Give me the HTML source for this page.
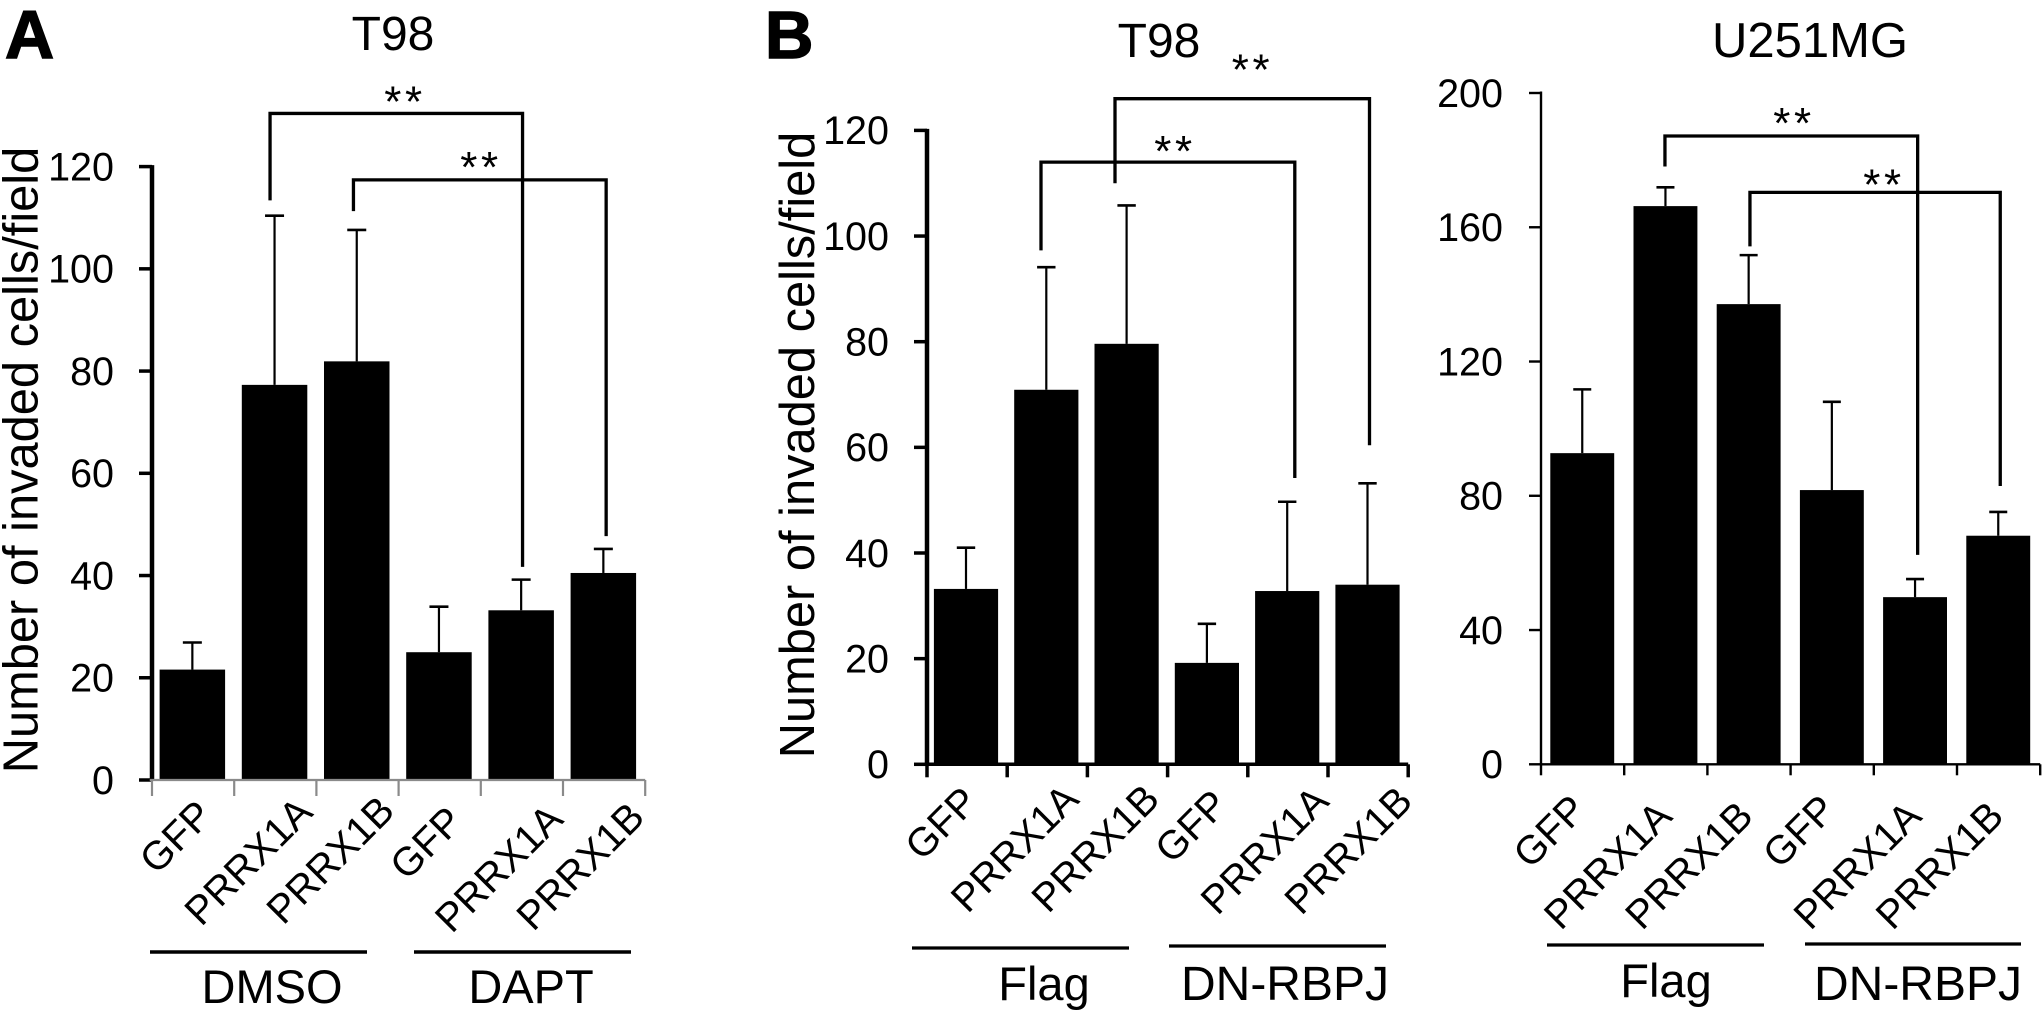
<!DOCTYPE html>
<html lang="en">
<head>
<meta charset="utf-8">
<title>Number of invaded cells per field</title>
<style>
html,body{margin:0;padding:0;background:#fff;}
svg{display:block;}
text{font-family:"Liberation Sans",Arial,sans-serif;fill:#000;}
</style>
</head>
<body>
<svg id="figure" xmlns="http://www.w3.org/2000/svg" width="2042" height="1012" viewBox="0 0 2042 1012">
  <rect x="0" y="0" width="2042" height="1012" fill="#fff"/>

  <text x="5" y="58" font-size="68" font-weight="700" stroke="#000" stroke-width="1.5">A</text>
  <text x="765" y="58" font-size="67" font-weight="700" stroke="#000" stroke-width="1.5">B</text>

  <text x="393" y="50" font-size="48" text-anchor="middle">T98</text>
  <text x="1159" y="57" font-size="48" text-anchor="middle">T98</text>
  <text x="1810" y="57" font-size="49" text-anchor="middle">U251MG</text>

  <text transform="translate(37.5,460) rotate(-90)" font-size="48.8" text-anchor="middle">Number of invaded cells/field</text>
  <text transform="translate(814,445) rotate(-90)" font-size="48.8" text-anchor="middle">Number of invaded cells/field</text>

  <line x1="150" x2="367" y1="952" y2="952" stroke="#000" stroke-width="3.5"/>
  <line x1="414" x2="631" y1="952" y2="952" stroke="#000" stroke-width="3.5"/>
  <text x="272" y="1003" font-size="47" text-anchor="middle">DMSO</text>
  <text x="531" y="1003" font-size="47" text-anchor="middle">DAPT</text>

  <line x1="912" x2="1129" y1="948" y2="948" stroke="#000" stroke-width="3.2"/>
  <line x1="1169" x2="1386" y1="946" y2="946" stroke="#000" stroke-width="3.2"/>
  <text x="1044" y="1000" font-size="47" text-anchor="middle">Flag</text>
  <text x="1285" y="1000" font-size="48" text-anchor="middle">DN-RBPJ</text>

  <line x1="1547" x2="1764" y1="945" y2="945" stroke="#000" stroke-width="3.2"/>
  <line x1="1805" x2="2021" y1="944" y2="944" stroke="#000" stroke-width="3.2"/>
  <text x="1666" y="997" font-size="47" text-anchor="middle">Flag</text>
  <text x="1918" y="1000" font-size="48" text-anchor="middle">DN-RBPJ</text>
</svg>

<script>
// ---- Chart data ----
const categories = ["GFP", "PRRX1A", "PRRX1B", "GFP", "PRRX1A", "PRRX1B"];

const panelAValues = [21.6, 77.3, 81.9, 25, 33.2, 40.5];
const panelAErrorTops = [26.9, 110.4, 107.6, 33.9, 39.2, 45.2];
const panelATicks = [0, 20, 40, 60, 80, 100, 120];
const panelABracketFrom = [1, 2];
const panelABracketTo = [4, 5];
const panelABracketTop = [130.4, 117.4];
const panelABracketLeftEnd = [113.4, 111.3];
const panelABracketRightEnd = [41.7, 47.7];
const panelABracketLabels = ["**", "**"];

const panelBValues = [33.2, 70.9, 79.6, 19.2, 32.8, 34];
const panelBErrorTops = [41, 94.1, 105.8, 26.6, 49.7, 53.2];
const panelBTicks = [0, 20, 40, 60, 80, 100, 120];
const panelBBracketFrom = [2, 1];
const panelBBracketTo = [5, 4];
const panelBBracketTop = [126, 114];
const panelBBracketLeftEnd = [110, 97.3];
const panelBBracketRightEnd = [60.4, 54.2];
const panelBBracketLabels = ["**", "**"];

const panelCValues = [92.7, 166.3, 137.1, 81.7, 49.8, 68.1];
const panelCErrorTops = [111.7, 171.9, 151.7, 108, 55.2, 75.2];
const panelCTicks = [0, 40, 80, 120, 160, 200];
const panelCBracketFrom = [1, 2];
const panelCBracketTo = [4, 5];
const panelCBracketTop = [187.2, 170.4];
const panelCBracketLeftEnd = [178.1, 154.3];
const panelCBracketRightEnd = [62.4, 82.9];
const panelCBracketLabels = ["**", "**"];

// ---- Drawing ----
const SVG_NS = "http://www.w3.org/2000/svg";
const figure = document.getElementById("figure");

function make(tag, attrs, parent) {
  const el = document.createElementNS(SVG_NS, tag);
  for (const key in attrs) el.setAttribute(key, attrs[key]);
  parent.appendChild(el);
  return el;
}

function drawPanel(p) {
  const yScale = v => p.y0 - (v - p.min) * (p.y0 - p.yTop) / (p.max - p.min);
  const barLeft = i => p.barStart + i * p.barStep;
  const barCenter = i => barLeft(i) + p.barWidth / 2;
  const tickX = i => p.axisX + i * p.tickStep;

  const group = make("g", {}, figure);
  
  

  // Error bars
  p.errorTops.forEach((top, i) => {
    const stem = make("line", {
      x1: barCenter(i), x2: barCenter(i), y1: yScale(p.values[i]), y2: yScale(top),
      stroke: "#000", "stroke-width": 2.2
    }, group);
    
    
    const cap = make("line", {
      x1: barCenter(i) - p.capWidth / 2, x2: barCenter(i) + p.capWidth / 2,
      y1: yScale(top), y2: yScale(top),
      stroke: "#000", "stroke-width": 2.6
    }, group);
    
    
  });

  // Bars
  p.values.forEach((v, i) => {
    const bar = make("rect", {
      x: barLeft(i), y: yScale(v), width: p.barWidth, height: p.y0 - yScale(v), fill: "#000"
    }, group);
    
    
  });

  // Y axis
  const yAxis = make("line", {
    x1: p.axisX, x2: p.axisX, y1: yScale(p.max) - 1.5, y2: p.y0 + 1,
    stroke: "#000", "stroke-width": p.yAxisWidth
  }, group);
  
  

  p.ticks.forEach(t => {
    const mark = make("line", {
      x1: p.axisX - p.yTickLength, x2: p.axisX, y1: yScale(t), y2: yScale(t),
      stroke: "#000", "stroke-width": p.yTickWidth
    }, group);
    
    
    const label = make("text", {
      x: p.yLabelX, y: yScale(t), dy: "0.35em", "font-size": 39.5, "text-anchor": "end"
    }, group);
    
    
    label.textContent = t;
  });

  // X axis
  const xAxis = make("line", {
    x1: p.axisX - p.yAxisWidth / 2, x2: tickX(p.values.length), y1: p.y0, y2: p.y0,
    stroke: p.xAxisColor, "stroke-width": p.xAxisWidth
  }, group);
  
  

  for (let i = 0; i <= p.values.length; i++) {
    const tick = make("line", {
      x1: tickX(i), x2: tickX(i), y1: p.y0, y2: p.y0 + p.xTickLength,
      stroke: p.xAxisColor, "stroke-width": p.xAxisWidth
    }, group);
    
    
  }

  categories.forEach((c, i) => {
    const lx = barCenter(i) + p.labelShift[i];
    const ly = p.labelY[i];
    const label = make("text", {
      transform: "translate(" + lx + "," + ly + ") rotate(-45)",
      dy: "0.35em", "font-size": 40, "text-anchor": "middle"
    }, group);
    
    
    label.textContent = c;
  });

  // Significance brackets
  p.bracketFrom.forEach((from, k) => {
    const xl = barCenter(from) + p.bracketNudge[k][0];
    const xr = barCenter(p.bracketTo[k]) + p.bracketNudge[k][1];
    const top = yScale(p.bracketTop[k]);
    const bracket = make("path", {
      d: "M" + xl + " " + yScale(p.bracketLeftEnd[k]) + "V" + top + "H" + xr + "V" + yScale(p.bracketRightEnd[k]),
      fill: "none", stroke: "#000", "stroke-width": p.bracketWidth
    }, group);
    
    
    const stars = make("text", {
      x: p.starX[k], y: top + p.starDy[k], "font-size": 44, "letter-spacing": 3.6, "text-anchor": "middle"
    }, group);
    
    
    stars.textContent = p.bracketLabels[k];
  });
}

drawPanel({
  name: "panel-a", values: panelAValues, errorTops: panelAErrorTops, ticks: panelATicks,
  bracketFrom: panelABracketFrom, bracketTo: panelABracketTo, bracketTop: panelABracketTop,
  bracketLeftEnd: panelABracketLeftEnd, bracketRightEnd: panelABracketRightEnd, bracketLabels: panelABracketLabels,
  min: 0, max: 120, y0: 780, yTop: 166.6, axisX: 152, yLabelX: 114,
  barStart: 159.6, barStep: 82.2, barWidth: 65.5, tickStep: 82.2, capWidth: 19,
  yAxisWidth: 4.5, yTickWidth: 3.5, yTickLength: 13, bracketWidth: 3.3,
  xAxisColor: "#8a8a8a", xAxisWidth: 2.2, xTickLength: 16,
  labelShift: [-16.8, -26.6, -26.8, -13, -22.7, -23.4], labelY: [836.6, 861, 859.6, 842.7, 868, 866],
  bracketNudge: [[-4.5, 1.4], [-3.3, 2.8]], starX: [405, 481], starDy: [3, 2]
});

drawPanel({
  name: "panel-b", values: panelBValues, errorTops: panelBErrorTops, ticks: panelBTicks,
  bracketFrom: panelBBracketFrom, bracketTo: panelBBracketTo, bracketTop: panelBBracketTop,
  bracketLeftEnd: panelBBracketLeftEnd, bracketRightEnd: panelBBracketRightEnd, bracketLabels: panelBBracketLabels,
  min: 0, max: 120, y0: 764.3, yTop: 130.4, axisX: 927, yLabelX: 889,
  barStart: 933.9, barStep: 80.3, barWidth: 64.2, tickStep: 80.2, capWidth: 18.4,
  yAxisWidth: 4.5, yTickWidth: 3.5, yTickLength: 13, bracketWidth: 3.3,
  xAxisColor: "#000", xAxisWidth: 3.5, xTickLength: 13,
  labelShift: [-25, -32, -31.6, -16, -23, -19.5], labelY: [823, 848, 848, 826, 850, 850],
  bracketNudge: [[-11.6, 2], [-5.3, 7.6]], starX: [1252.5, 1175], starDy: [-14, 4]
});

drawPanel({
  name: "panel-c", values: panelCValues, errorTops: panelCErrorTops, ticks: panelCTicks,
  bracketFrom: panelCBracketFrom, bracketTo: panelCBracketTo, bracketTop: panelCBracketTop,
  bracketLeftEnd: panelCBracketLeftEnd, bracketRightEnd: panelCBracketRightEnd, bracketLabels: panelCBracketLabels,
  min: 0, max: 200, y0: 764.3, yTop: 93, axisX: 1541, yLabelX: 1503,
  barStart: 1550.3, barStep: 83.2, barWidth: 63.9, tickStep: 83.2, capWidth: 18,
  yAxisWidth: 2.4, yTickWidth: 2.4, yTickLength: 12, bracketWidth: 3.3,
  xAxisColor: "#000", xAxisWidth: 2.4, xTickLength: 11,
  labelShift: [-33, -58, -60, -33, -58, -59], labelY: [831, 865, 865, 831, 865, 865],
  bracketNudge: [[-0.5, 2.6], [1.3, 2]], starX: [1794, 1884], starDy: [2, 7]
});
</script>
</body>
</html>
